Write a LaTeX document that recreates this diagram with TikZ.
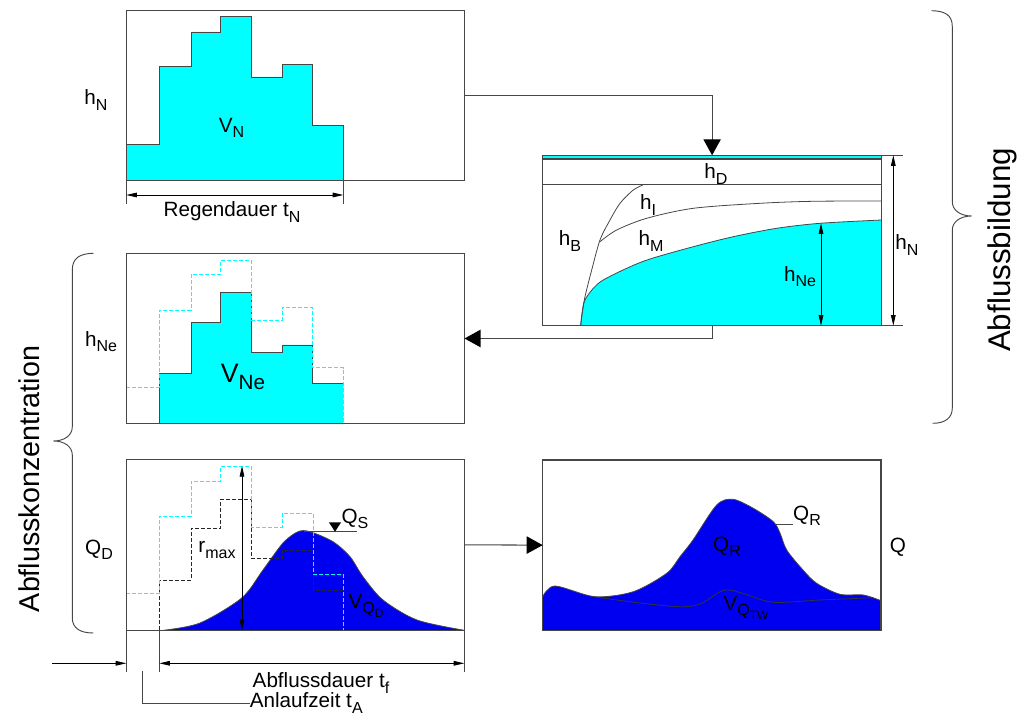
\documentclass[tikz,border=0pt]{standalone}
\usepackage{fontspec}
\setmainfont{Liberation Sans}
\usetikzlibrary{arrows.meta,fit,calc}
\definecolor{cy}{RGB}{0,255,255}
\definecolor{bl}{RGB}{0,0,240}
\definecolor{ln}{RGB}{70,70,70}
\newcommand\sbs[1]{\raisebox{-0.25em}{\fontsize{12}{12}\selectfont #1}}
\newcommand\ssbs[1]{\raisebox{-0.25em}{\fontsize{9}{9}\selectfont #1}}
\begin{document}
\begin{tikzpicture}[x=0.75pt,y=-0.75pt,
 panel/.style={draw=ln, line width=0.8pt, inner sep=0pt, outer sep=0pt},
 lbl/.style={font=\fontsize{15.5}{16}\selectfont, inner sep=0pt},
 biglbl/.style={font=\fontsize{20}{20}\selectfont, inner sep=0pt},
 bigarr/.style={draw=ln, line width=0.8pt, -{Triangle[length=12pt,width=13pt,color=black]}},
 dimline/.style={draw=black, line width=0.6pt, {Triangle[length=8pt,width=3.5pt]}-{Triangle[length=8pt,width=3.5pt]}},
 thinline/.style={draw=ln, line width=0.6pt},
 cdash/.style={draw=cy, line width=0.6pt, dash pattern=on 3pt off 1.5pt},
 kdash/.style={draw=black!85, line width=0.6pt, dash pattern=on 3pt off 1.5pt},
 brace/.style={draw=ln, line width=0.7pt}
]
\useasboundingbox (0,0) rectangle (1018,716);

% ---------- Panel 1 : rainfall ----------
\fill[cy] (126.3,180.7) -- (126.3,144.3) -- (159.3,144.3) -- (159.3,66.7) -- (191,66.7) -- (191,32) -- (220.7,32) -- (220.7,16.7) -- (251.3,16.7) -- (251.3,77) -- (282.3,77) -- (282.3,64.3) -- (312.7,64.3) -- (312.7,125.3) -- (343.3,125.3) -- (343.3,180.7) -- cycle;
\draw[thinline] (126.3,144.3) -- (159.3,144.3) -- (159.3,66.7) -- (191,66.7) -- (191,32) -- (220.7,32) -- (220.7,16.7) -- (251.3,16.7) -- (251.3,77) -- (282.3,77) -- (282.3,64.3) -- (312.7,64.3) -- (312.7,125.3) -- (343.3,125.3) -- (343.3,180.7);
\node[panel, fit={(126.3,10.3)(464.5,180.7)}] (p1) {};
\node[lbl] (lhN) at (96,100) {h\sbs{N}};
\node[lbl] (lVN) at (231.5,128) {V\sbs{N}};
\draw[thinline] (126.3,180.7) -- (126.3,204);
\draw[thinline] (343.3,180.7) -- (343.3,204);
\draw[dimline] (126.3,195) -- (343.3,195);
\node[lbl] (lRd) at (232,212) {Regendauer t\sbs{N}};

% ---------- Panel 2 : loss model ----------
\fill[cy] (542.7,155.3) rectangle (881.5,159);
\fill[cy] plot[smooth] coordinates {(580.7,325.7) (584,302.3) (593.3,288.3) (603.3,280) (626.7,268.3) (650,259) (693.3,246.7) (733.3,236.7) (776.7,228.3) (820,223.3) (881.5,220)} -- (881.5,325.7) -- cycle;
\draw[thinline] plot[smooth] coordinates {(580.7,325.7) (584,302.3) (593.3,288.3) (603.3,280) (626.7,268.3) (650,259) (693.3,246.7) (733.3,236.7) (776.7,228.3) (820,223.3) (881.5,220)};
\draw[thinline] plot[smooth] coordinates {(644.3,184.3) (633.3,190) (620,203.3) (610,220) (600,240) (591.7,270) (585,296.7) (581.7,316.7) (580.7,325.7)};
\draw[thinline] plot[smooth] coordinates {(600,241.7) (616.7,230) (646.7,218.3) (693.3,208.3) (760,203.3) (813.3,201.3) (881.5,201)};
\draw[ln, line width=0.8pt] (542.7,159) -- (881.5,159);
\draw[ln, line width=0.8pt] (542.7,184.3) -- (881.5,184.3);
\node[panel, fit={(542.7,155.3)(881.5,325.7)}] (p2) {};
\node[lbl] (lhD) at (716,174) {h\sbs{D}};
\node[lbl] (lhI) at (648,205) {h\sbs{I}};
\node[lbl] (lhM) at (651,241) {h\sbs{M}};
\node[lbl] (lhB) at (570,241) {h\sbs{B}};
\node[lbl] (lhNe2) at (800,277) {h\sbs{Ne}};
\draw[dimline] (821,223.3) -- (821,325.7);
\draw[thinline] (881.5,155.3) -- (903,155.3);
\draw[thinline] (881.5,325.7) -- (903,325.7);
\draw[dimline] (893.3,155.3) -- (893.3,325.7);
\node[lbl] (lhN2) at (907,245) {h\sbs{N}};

% ---------- Panel 3 : effective rainfall ----------
\fill[cy] (159.3,423.7) -- (159.3,373.3) -- (191,373.3) -- (191,322.7) -- (220.7,322.7) -- (220.7,292.3) -- (251.3,292.3) -- (251.3,352.3) -- (282.3,352.3) -- (282.3,345) -- (312.7,345) -- (312.7,383.7) -- (343.3,383.7) -- (343.3,423.7) -- cycle;
\draw[thinline] (159.3,423.7) -- (159.3,373.3) -- (191,373.3) -- (191,322.7) -- (220.7,322.7) -- (220.7,292.3) -- (251.3,292.3) -- (251.3,352.3) -- (282.3,352.3) -- (282.3,345) -- (312.7,345) -- (312.7,383.7) -- (343.3,383.7);
\draw[cdash] (126.3,387.3) -- (159.3,387.3) -- (159.3,310.3) -- (191,310.3) -- (191,274) -- (220.7,274) -- (220.7,260.3) -- (251.3,260.3) -- (251.3,320.3) -- (282.3,320.3) -- (282.3,307.3) -- (312.7,307.3) -- (312.7,367.7) -- (343.3,367.7) -- (343.3,423.7);
\node[panel, fit={(126.3,253.3)(464.5,423.7)}] (p3) {};
\node[lbl] (lhNe) at (101,342) {h\sbs{Ne}};
\node[biglbl] (lVNe) at (243,377) {V\raisebox{-0.25em}{\fontsize{15.5}{16}\selectfont Ne}};

% ---------- Panel 4 : direct runoff ----------
\fill[bl] plot[smooth] coordinates {(163.3,630.3) (200,623) (241.7,598) (263,570) (283,543) (298,531.7) (310,531.7) (333,541.7) (350,556.7) (363,576.7) (383,600) (417,620) (464.3,630.3)} -- cycle;
\draw[thinline] plot[smooth] coordinates {(163.3,630.3) (200,623) (241.7,598) (263,570) (283,543) (298,531.7) (310,531.7) (333,541.7) (350,556.7) (363,576.7) (383,600) (417,620) (464.3,630.3)};
\draw[kdash] (159.3,630.3) -- (159.3,580) -- (191.3,580) -- (191.3,528) -- (220.7,528) -- (220.7,499) -- (251.3,499) -- (251.3,558.3) -- (282.3,558.3) -- (282.3,550) -- (313.3,550) -- (313.3,590) -- (343.3,590) -- (343.3,630.3);
\draw[cdash] (126.3,593.3) -- (159.3,593.3) -- (159.3,516.3) -- (191.3,516.3) -- (191.3,481.3) -- (220.7,481.3) -- (220.7,466) -- (251.3,466) -- (251.3,527) -- (282.3,527) -- (282.3,513) -- (313.3,513) -- (313.3,574) -- (343.3,574) -- (343.3,630.3);
\node[panel, fit={(126.3,459.3)(464.3,630.3)}] (p4) {};
\draw[thinline] (304,531.7) -- (356.7,531.7);
\fill[black] (329,522.5) -- (341,522.5) -- (335,531.7) -- cycle;
\node[lbl] (lQS) at (355,519) {Q\sbs{S}};
\draw[dimline] (242,466) -- (242,630.3);
\node[lbl] (lrmax) at (217,550) {r\sbs{max}};
\node[lbl] (lVQD) at (366,606) {V\sbs{Q\ssbs{D}}};
\node[lbl] (lQD) at (99,550) {Q\sbs{D}};

% dimensions below panel 4
\draw[thinline] (126.3,630.3) -- (126.3,671.7);
\draw[thinline] (159.3,630.3) -- (159.3,671.7);
\draw[thinline] (464.3,630.3) -- (464.3,671.7);
\draw[draw=black, line width=0.6pt, -{Triangle[length=8pt,width=3.5pt]}] (52,663.3) -- (126.3,663.3);
\draw[dimline] (159.3,663.3) -- (464.3,663.3);
\node[lbl] (ltf) at (321,683) {Abflussdauer t\sbs{f}};
\node[lbl, anchor=west] (ltA) at (249.5,703) {Anlaufzeit t\sbs{A}};
\coordinate (tA) at (142.7,670.7);
\draw[thinline] (tA) |- (ltA.west);

% ---------- Panel 5 : total runoff ----------
\fill[bl] plot[smooth] coordinates {(542.7,596.7) (555,586) (595,596.7) (633.3,591.7) (666.7,573.3) (680,556.7) (693,540) (716.7,505) (733,499.3) (753.3,508.3) (773.3,521.7) (780,533) (786.7,550) (803,570) (816.7,583.3) (840,594.3) (863.3,595) (881,600.7)} -- (881,630.3) -- (542.7,630.3) -- cycle;
\draw[thinline] plot[smooth] coordinates {(542.7,596.7) (555,586) (595,596.7) (633.3,591.7) (666.7,573.3) (680,556.7) (693,540) (716.7,505) (733,499.3) (753.3,508.3) (773.3,521.7) (780,533) (786.7,550) (803,570) (816.7,583.3) (840,594.3) (863.3,595) (881,600.7)};
\draw[draw=black!80, line width=0.6pt] plot[smooth] coordinates {(595,597) (640,603) (680,606.7) (700,604) (720,591.7) (730,590) (745,594) (773,602.3) (820,600) (873,597.7)};
\node[panel, fit={(542.7,460)(881,630.3)}] (p5) {};
\draw[thinline] (775,524) -- (793,524);
\node[lbl] (lQR1) at (807,516) {Q\sbs{R}};
\node[lbl] (lQR2) at (727,547) {Q\sbs{R}};
\node[lbl] (lVQTW) at (746,608) {V\sbs{Q\ssbs{TW}}};
\node[lbl] (lQ) at (898,547) {Q};

% ---------- connectors ----------
\draw[bigarr] (p1.east) -| (p2.north);
\draw[bigarr] (p2.south) |- (p3.east);
\draw[bigarr] (p4.east) -- (p5.west);

% ---------- braces ----------
\draw[brace] (931.7,10.7) .. controls (945,11) and (952.3,15) .. (952.3,26.7) -- (952.3,201.7) .. controls (952.3,210) and (960,216) .. (971.7,216) .. controls (960,216) and (952.3,222) .. (952.3,230) -- (952.3,408) .. controls (952.3,418) and (945,423.3) .. (932.7,423.3);
\draw[brace] (93.3,253.3) .. controls (80,253.5) and (72.3,258) .. (72.3,270) -- (72.3,426.7) .. controls (72.3,435) and (65,441) .. (53.3,441) .. controls (65,441) and (72.3,447) .. (72.3,455) -- (72.3,618) .. controls (72.3,628) and (80,633) .. (93.3,633);
\node[rotate=90, font=\fontsize{23.5}{24}\selectfont, inner sep=0pt] (lAbb) at (1002,250) {Abflussbildung};
\node[rotate=90, font=\fontsize{21.5}{22}\selectfont, inner sep=0pt] (lAbk) at (29,479) {Abflusskonzentration};
\end{tikzpicture}
\end{document}
